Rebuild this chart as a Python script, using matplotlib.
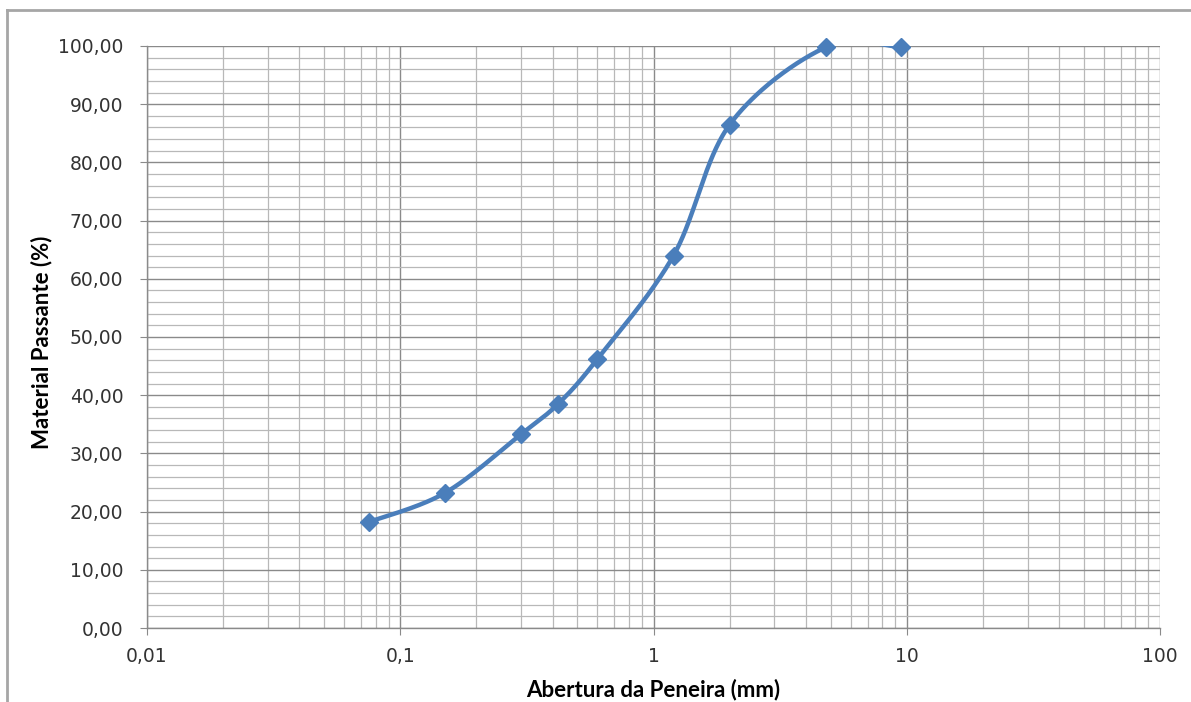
import numpy as np
import matplotlib
matplotlib.use("Agg")
import matplotlib.pyplot as plt
from matplotlib.ticker import FixedLocator, FuncFormatter, LogLocator, MultipleLocator
from matplotlib.lines import Line2D

# Data
sieve_mm = [0.075, 0.15, 0.3, 0.42, 0.6, 1.2, 2.0, 4.8, 9.5]
passing_pct = [18.2, 23.2, 33.3, 38.5, 46.2, 64.0, 86.5, 99.8, 99.8]
x_tick_values = [0.01, 0.1, 1, 10, 100]
x_tick_labels = ["0,01", "0,1", "1", "10", "100"]
y_title = "Material Passante (%)"
x_title = "Abertura da Peneira (mm)"

color = "#4A7EBB"

fig = plt.figure(figsize=(11.91, 7.02), dpi=100)
ax = fig.add_axes([147 / 1191, 1 - 628 / 702, (1160 - 147) / 1191, (628 - 46) / 702])
ax.set_xscale("log")
ax.set_xlim(0.01, 100)
ax.set_ylim(0, 100)

# grid
ax.xaxis.set_major_locator(FixedLocator(x_tick_values))
ax.xaxis.set_minor_locator(LogLocator(base=10, subs=np.arange(2, 10)))
ax.yaxis.set_major_locator(MultipleLocator(10))
ax.yaxis.set_minor_locator(MultipleLocator(2))
ax.xaxis.set_major_formatter(FuncFormatter(lambda v, p: x_tick_labels[x_tick_values.index(v)] if v in x_tick_values else ""))
ax.xaxis.set_minor_formatter(FuncFormatter(lambda v, p: ""))
ax.yaxis.set_major_formatter(FuncFormatter(lambda v, p: f"{v:.2f}".replace(".", ",")))
ax.grid(which="major", color="#8A8A8A", linewidth=1.0)
ax.grid(which="minor", color="#B8B8B8", linewidth=0.9)
ax.set_axisbelow(True)
for s in ["top", "right"]:
    ax.spines[s].set_visible(False)
for s in ["left", "bottom"]:
    ax.spines[s].set_color("#8A8A8A")
    ax.spines[s].set_linewidth(1.0)
ax.tick_params(which="major", length=5, color="#8A8A8A", labelsize=13.5, labelcolor="#333333")
ax.tick_params(axis="x", which="minor", length=0)
ax.tick_params(axis="y", which="minor", length=0)
ax.tick_params(axis="y", which="major", pad=12)
ax.tick_params(axis="x", which="major", pad=9)
for lab in ax.get_xticklabels() + ax.get_yticklabels():
    lab.set_fontfamily("DejaVu Sans")

ax.set_ylabel(y_title, fontsize=16, fontweight="bold", family="Lato", va="center")
ax.set_xlabel(x_title, fontsize=16, fontweight="bold", family="Lato", va="center")
ax.yaxis.set_label_coords((42 - 147) / 1013, 0.5 - 5 / 582)
ax.xaxis.set_label_coords(0.5, (628 - 690) / 582)

# Excel-style smoothed curve computed in display space
fig.canvas.draw()
pts = ax.transData.transform(np.column_stack([sieve_mm, passing_pct]))
n = len(pts)
curve = []
for i in range(n - 1):
    p0 = pts[max(i - 1, 0)]
    p1 = pts[i]
    p2 = pts[i + 1]
    p3 = pts[min(i + 2, n - 1)]
    c1 = p1 + (p2 - p0) / 6.0
    c2 = p2 - (p3 - p1) / 6.0
    t = np.linspace(0, 1, 60)[:, None]
    seg = (1 - t) ** 3 * p1 + 3 * (1 - t) ** 2 * t * c1 + 3 * (1 - t) * t ** 2 * c2 + t ** 3 * p2
    curve.append(seg if i == 0 else seg[1:])
curve = np.vstack(curve)
curve_data = ax.transData.inverted().transform(curve)
ax.plot(curve_data[:, 0], curve_data[:, 1], color=color, linewidth=3.2, solid_capstyle="round", zorder=3)
ax.plot(sieve_mm, passing_pct, linestyle="none", marker="D", markersize=9.5, color=color, zorder=4, clip_on=False)

# outer chart border
fig.add_artist(Line2D([7 / 1191, 7 / 1191], [0, 1 - 10 / 702], color="#A6A6A6", linewidth=2, transform=fig.transFigure))
fig.add_artist(Line2D([7 / 1191, 1.0], [1 - 10 / 702, 1 - 10 / 702], color="#A6A6A6", linewidth=2, transform=fig.transFigure))

fig.savefig("out.png", dpi=100, facecolor="white")
